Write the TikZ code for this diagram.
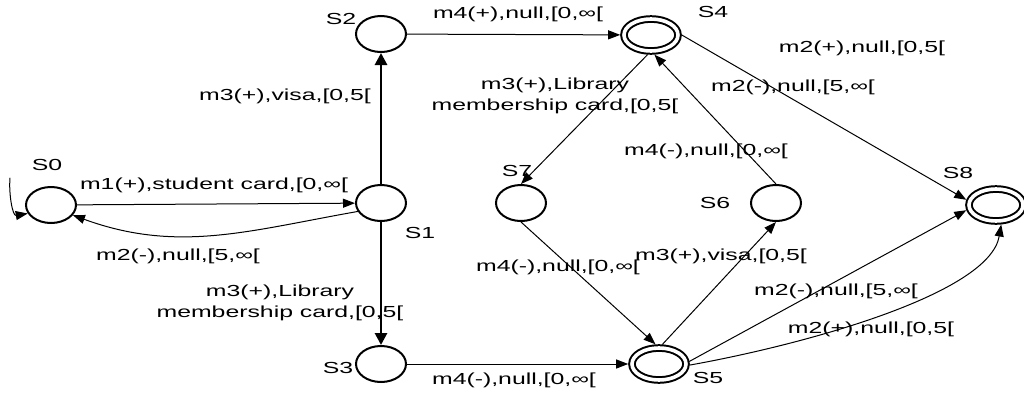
\documentclass[tikz,border=0pt]{standalone}
\usepackage{fontspec}
\setmainfont{Liberation Sans}[FakeStretch=1.55]
\usetikzlibrary{arrows.meta,shapes.geometric}

\begin{document}
\begin{tikzpicture}[x=0.5pt, y=0.5pt, line width=0.5pt, line cap=round,
    estado/.style={ellipse, draw, line width=1pt, minimum width=25pt, minimum height=18pt, inner sep=0pt},
    final/.style={ellipse, draw, line width=1pt, double, double distance=1.8pt,
      minimum width=27pt, minimum height=16pt, inner sep=0pt, outer sep=1.9pt},
    arr/.style={-{Triangle[length=6pt,width=4.5pt]}},
    grueso/.style={line width=1.4pt, -{Triangle[length=6pt,width=6pt]}},
    lbl/.style={font=\fontsize{8pt}{10.5pt}\selectfont, align=center, inner sep=0pt}]
      \useasboundingbox (0,0) rectangle (1024,398);
      % estados
      \node[estado] (S0) at (51,193)  {};
      \node[estado] (S1) at (381,195) {};
      \node[estado] (S2) at (381,364) {};
      \node[estado] (S3) at (381,34)  {};
      \node[final]  (S4) at (651,363) {};
      \node[final]  (S5) at (659,34)  {};
      \node[estado] (S6) at (776,195) {};
      \node[estado] (S7) at (521,195) {};
      \node[final]  (S8) at (996,193) {};
      \node[lbl] (nS0) at (47,233)  {S0};
      \node[lbl] (nS1) at (420,165) {S1};
      \node[lbl] (nS2) at (341,379) {S2};
      \node[lbl] (nS3) at (338,30)  {S3};
      \node[lbl] (nS4) at (713,386) {S4};
      \node[lbl] (nS5) at (708,20)  {S5};
      \node[lbl] (nS6) at (715,195) {S6};
      \node[lbl] (nS7) at (517,227) {S7};
      \node[lbl] (nS8) at (958,225) {S8};
      % estado inicial
      \coordinate (ini) at (10,220);
      \draw[arr] (ini) to[out=-95, in=190] (S0.200);
      % transiciones
      \draw[arr] (S0) -- (S1);
      \draw[arr] (S1.200) to[out=190, in=-20] (S0.-25);
      \draw[grueso] (S1) -- (S2);
      \draw[grueso] (S1) -- (S3);
      \draw[arr] (S2) -- (S4);
      \draw[arr] (S4.-100) -- (S7.north);
      \draw[arr] (S6.north) -- (S4.-80);
      \draw[arr] (S4.east) -- (S8.170);
      \draw[arr] (S7.south) -- (S5.100);
      \draw[arr] (S5.80) -- (S6.south);
      \draw[arr] (S3) -- (S5);
      \draw[arr] (S5.5) -- (S8.190);
      \draw[arr] (S5.-2) .. controls +(112,20) and +(-12,-70) .. (S8.-75);
      % etiquetas
      \node[lbl] (l1)  at (214,213) {m1(+),student card,[0,∞[};
      \node[lbl] (l2)  at (178,142) {m2(-),null,[5,∞[};
      \node[lbl] (l3)  at (285,302) {m3(+),visa,[0,5[};
      \node[lbl] (l4)  at (280,95)  {m3(+),Library\\membership card,[0,5[};
      \node[lbl] (l5)  at (518,384) {m4(+),null,[0,∞[};
      \node[lbl] (l6)  at (555,302) {m3(+),Library\\membership card,[0,5[};
      \node[lbl] (l7)  at (706,247) {m4(-),null,[0,∞[};
      \node[lbl] (l8)  at (862,350) {m2(+),null,[0,5[};
      \node[lbl] (l9)  at (793,311) {m2(-),null,[5,∞[};
      \node[lbl] (l10) at (558,131) {m4(-),null,[0,∞[};
      \node[lbl] (l11) at (721,142) {m3(+),visa,[0,5[};
      \node[lbl] (l12) at (514,18)  {m4(-),null,[0,∞[};
      \node[lbl] (l13) at (836,107) {m2(-),null,[5,∞[};
      \node[lbl] (l14) at (871,69)  {m2(+),null,[0,5[};
    \end{tikzpicture}
\end{document}
